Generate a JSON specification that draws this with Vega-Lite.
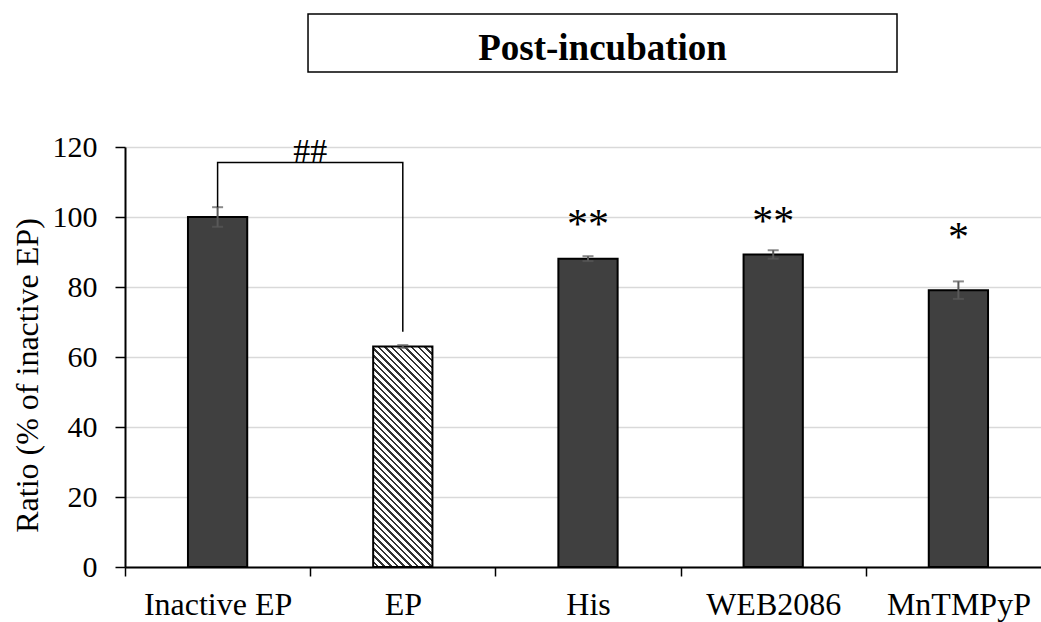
{
  "$schema": "https://vega.github.io/schema/vega-lite/v6.json",
  "width": 916,
  "height": 420,
  "autosize": {"type": "none"},
  "padding": {"left": 125, "top": 147, "right": 0, "bottom": 55},
  "config": {
    "font": "'Liberation Serif', 'Times New Roman', serif",
    "view": {"stroke": null},
    "text": {"font": "'Liberation Serif', 'Times New Roman', serif"},
    "axis": {
      "labelColor": "black",
      "titleColor": "black",
      "domainColor": "black",
      "tickColor": "black",
      "labelFont": "'Liberation Serif', 'Times New Roman', serif",
      "titleFont": "'Liberation Serif', 'Times New Roman', serif",
      "titleFontWeight": "normal"
    }
  },
  "datasets": {
    "groups": [
      {"group": "Inactive EP", "ratio": 100, "lo": 97.2, "hi": 102.8, "stars": "", "star_y": null},
      {"group": "EP", "ratio": 63, "lo": 62.6, "hi": 63.4, "stars": "", "star_y": null},
      {"group": "His", "ratio": 88.1, "lo": 87.4, "hi": 88.8, "stars": "**", "star_y": 94.0},
      {"group": "WEB2086", "ratio": 89.3, "lo": 88.1, "hi": 90.5, "stars": "**", "star_y": 95.0},
      {"group": "MnTMPyP", "ratio": 79.1, "lo": 76.6, "hi": 81.6, "stars": "*", "star_y": 90.4}
    ],
    "bracket": [
      {"step": 1, "group": "Inactive EP", "y": 102.8},
      {"step": 2, "group": "Inactive EP", "y": 115.6},
      {"step": 3, "group": "EP", "y": 115.6},
      {"step": 4, "group": "EP", "y": 67.2}
    ],
    "hash": [
      {"group": "Inactive EP", "y": 115.6, "label": "##"}
    ]
  },
  "layer": [
    {
      "layer": [
        {
          "data": {"name": "groups"},
          "transform": [{"filter": "datum.group !== 'EP'"}],
          "mark": {"type": "bar", "width": {"band": 0.32}, "fill": "#404040", "stroke": "black", "strokeWidth": 2},
          "encoding": {
            "x": {
              "field": "group",
              "type": "nominal",
              "scale": {"domain": ["Inactive EP", "EP", "His", "WEB2086", "MnTMPyP"], "paddingInner": 0, "paddingOuter": 0, "range": [0, 926]},
              "axis": {
                "title": null,
                "labelAngle": 0,
                "tickBand": "extent",
                "tickSize": 9,
                "tickWidth": 1.5,
                "domainWidth": 2,
                "labelFontSize": 32,
                "labelPadding": 13,
                "grid": false
              }
            },
            "y": {
              "field": "ratio",
              "type": "quantitative",
              "scale": {"domain": [0, 120], "nice": false},
              "axis": {
                "values": [0, 20, 40, 60, 80, 100, 120],
                "grid": true,
                "gridColor": "#d9d9d9",
                "gridWidth": 1.5,
                "domainWidth": 2,
                "tickWidth": 1.5,
                "tickSize": 10,
                "labelFontSize": 30,
                "labelPadding": 18,
                "title": "Ratio (% of inactive EP)",
                "titleFontSize": 32,
                "titlePadding": 8,
                "titleY": 228
              }
            }
          }
        },
        {
          "data": {"name": "groups"},
          "transform": [{"filter": "datum.group === 'EP'"}],
          "mark": {
            "type": "bar",
            "width": {"band": 0.32},
            "stroke": "black",
            "strokeWidth": 2,
            "fill": {
              "gradient": "linear",
              "x1": 0, "y1": 1, "x2": 0.3183, "y2": -0.1834,
              "stops": [
                {"offset": 0, "color": "#fff"}, {"offset": 0.01476, "color": "#fff"}, {"offset": 0.01476, "color": "#333"}, {"offset": 0.02381, "color": "#333"},
                {"offset": 0.02381, "color": "#fff"}, {"offset": 0.03857, "color": "#fff"}, {"offset": 0.03857, "color": "#333"}, {"offset": 0.04762, "color": "#333"},
                {"offset": 0.04762, "color": "#fff"}, {"offset": 0.06238, "color": "#fff"}, {"offset": 0.06238, "color": "#333"}, {"offset": 0.07143, "color": "#333"},
                {"offset": 0.07143, "color": "#fff"}, {"offset": 0.08619, "color": "#fff"}, {"offset": 0.08619, "color": "#333"}, {"offset": 0.09524, "color": "#333"},
                {"offset": 0.09524, "color": "#fff"}, {"offset": 0.11, "color": "#fff"}, {"offset": 0.11, "color": "#333"}, {"offset": 0.11905, "color": "#333"},
                {"offset": 0.11905, "color": "#fff"}, {"offset": 0.13381, "color": "#fff"}, {"offset": 0.13381, "color": "#333"}, {"offset": 0.14286, "color": "#333"},
                {"offset": 0.14286, "color": "#fff"}, {"offset": 0.15762, "color": "#fff"}, {"offset": 0.15762, "color": "#333"}, {"offset": 0.16667, "color": "#333"},
                {"offset": 0.16667, "color": "#fff"}, {"offset": 0.18143, "color": "#fff"}, {"offset": 0.18143, "color": "#333"}, {"offset": 0.19048, "color": "#333"},
                {"offset": 0.19048, "color": "#fff"}, {"offset": 0.20524, "color": "#fff"}, {"offset": 0.20524, "color": "#333"}, {"offset": 0.21429, "color": "#333"},
                {"offset": 0.21429, "color": "#fff"}, {"offset": 0.22905, "color": "#fff"}, {"offset": 0.22905, "color": "#333"}, {"offset": 0.2381, "color": "#333"},
                {"offset": 0.2381, "color": "#fff"}, {"offset": 0.25286, "color": "#fff"}, {"offset": 0.25286, "color": "#333"}, {"offset": 0.2619, "color": "#333"},
                {"offset": 0.2619, "color": "#fff"}, {"offset": 0.27667, "color": "#fff"}, {"offset": 0.27667, "color": "#333"}, {"offset": 0.28571, "color": "#333"},
                {"offset": 0.28571, "color": "#fff"}, {"offset": 0.30048, "color": "#fff"}, {"offset": 0.30048, "color": "#333"}, {"offset": 0.30952, "color": "#333"},
                {"offset": 0.30952, "color": "#fff"}, {"offset": 0.32429, "color": "#fff"}, {"offset": 0.32429, "color": "#333"}, {"offset": 0.33333, "color": "#333"},
                {"offset": 0.33333, "color": "#fff"}, {"offset": 0.3481, "color": "#fff"}, {"offset": 0.3481, "color": "#333"}, {"offset": 0.35714, "color": "#333"},
                {"offset": 0.35714, "color": "#fff"}, {"offset": 0.3719, "color": "#fff"}, {"offset": 0.3719, "color": "#333"}, {"offset": 0.38095, "color": "#333"},
                {"offset": 0.38095, "color": "#fff"}, {"offset": 0.39571, "color": "#fff"}, {"offset": 0.39571, "color": "#333"}, {"offset": 0.40476, "color": "#333"},
                {"offset": 0.40476, "color": "#fff"}, {"offset": 0.41952, "color": "#fff"}, {"offset": 0.41952, "color": "#333"}, {"offset": 0.42857, "color": "#333"},
                {"offset": 0.42857, "color": "#fff"}, {"offset": 0.44333, "color": "#fff"}, {"offset": 0.44333, "color": "#333"}, {"offset": 0.45238, "color": "#333"},
                {"offset": 0.45238, "color": "#fff"}, {"offset": 0.46714, "color": "#fff"}, {"offset": 0.46714, "color": "#333"}, {"offset": 0.47619, "color": "#333"},
                {"offset": 0.47619, "color": "#fff"}, {"offset": 0.49095, "color": "#fff"}, {"offset": 0.49095, "color": "#333"}, {"offset": 0.5, "color": "#333"},
                {"offset": 0.5, "color": "#fff"}, {"offset": 0.51476, "color": "#fff"}, {"offset": 0.51476, "color": "#333"}, {"offset": 0.52381, "color": "#333"},
                {"offset": 0.52381, "color": "#fff"}, {"offset": 0.53857, "color": "#fff"}, {"offset": 0.53857, "color": "#333"}, {"offset": 0.54762, "color": "#333"},
                {"offset": 0.54762, "color": "#fff"}, {"offset": 0.56238, "color": "#fff"}, {"offset": 0.56238, "color": "#333"}, {"offset": 0.57143, "color": "#333"},
                {"offset": 0.57143, "color": "#fff"}, {"offset": 0.58619, "color": "#fff"}, {"offset": 0.58619, "color": "#333"}, {"offset": 0.59524, "color": "#333"},
                {"offset": 0.59524, "color": "#fff"}, {"offset": 0.61, "color": "#fff"}, {"offset": 0.61, "color": "#333"}, {"offset": 0.61905, "color": "#333"},
                {"offset": 0.61905, "color": "#fff"}, {"offset": 0.63381, "color": "#fff"}, {"offset": 0.63381, "color": "#333"}, {"offset": 0.64286, "color": "#333"},
                {"offset": 0.64286, "color": "#fff"}, {"offset": 0.65762, "color": "#fff"}, {"offset": 0.65762, "color": "#333"}, {"offset": 0.66667, "color": "#333"},
                {"offset": 0.66667, "color": "#fff"}, {"offset": 0.68143, "color": "#fff"}, {"offset": 0.68143, "color": "#333"}, {"offset": 0.69048, "color": "#333"},
                {"offset": 0.69048, "color": "#fff"}, {"offset": 0.70524, "color": "#fff"}, {"offset": 0.70524, "color": "#333"}, {"offset": 0.71429, "color": "#333"},
                {"offset": 0.71429, "color": "#fff"}, {"offset": 0.72905, "color": "#fff"}, {"offset": 0.72905, "color": "#333"}, {"offset": 0.7381, "color": "#333"},
                {"offset": 0.7381, "color": "#fff"}, {"offset": 0.75286, "color": "#fff"}, {"offset": 0.75286, "color": "#333"}, {"offset": 0.7619, "color": "#333"},
                {"offset": 0.7619, "color": "#fff"}, {"offset": 0.77667, "color": "#fff"}, {"offset": 0.77667, "color": "#333"}, {"offset": 0.78571, "color": "#333"},
                {"offset": 0.78571, "color": "#fff"}, {"offset": 0.80048, "color": "#fff"}, {"offset": 0.80048, "color": "#333"}, {"offset": 0.80952, "color": "#333"},
                {"offset": 0.80952, "color": "#fff"}, {"offset": 0.82429, "color": "#fff"}, {"offset": 0.82429, "color": "#333"}, {"offset": 0.83333, "color": "#333"},
                {"offset": 0.83333, "color": "#fff"}, {"offset": 0.8481, "color": "#fff"}, {"offset": 0.8481, "color": "#333"}, {"offset": 0.85714, "color": "#333"},
                {"offset": 0.85714, "color": "#fff"}, {"offset": 0.8719, "color": "#fff"}, {"offset": 0.8719, "color": "#333"}, {"offset": 0.88095, "color": "#333"},
                {"offset": 0.88095, "color": "#fff"}, {"offset": 0.89571, "color": "#fff"}, {"offset": 0.89571, "color": "#333"}, {"offset": 0.90476, "color": "#333"},
                {"offset": 0.90476, "color": "#fff"}, {"offset": 0.91952, "color": "#fff"}, {"offset": 0.91952, "color": "#333"}, {"offset": 0.92857, "color": "#333"},
                {"offset": 0.92857, "color": "#fff"}, {"offset": 0.94333, "color": "#fff"}, {"offset": 0.94333, "color": "#333"}, {"offset": 0.95238, "color": "#333"},
                {"offset": 0.95238, "color": "#fff"}, {"offset": 0.96714, "color": "#fff"}, {"offset": 0.96714, "color": "#333"}, {"offset": 0.97619, "color": "#333"},
                {"offset": 0.97619, "color": "#fff"}, {"offset": 0.99095, "color": "#fff"}, {"offset": 0.99095, "color": "#333"}, {"offset": 1, "color": "#333"}
              ]
            }
          },
          "encoding": {
            "x": {"field": "group", "type": "nominal"},
            "y": {"field": "ratio", "type": "quantitative"}
          }
        },
        {
          "data": {"name": "groups"},
          "mark": {"type": "rule", "color": "#595959", "strokeWidth": 2},
          "encoding": {
            "x": {"field": "group", "type": "nominal"},
            "y": {"field": "lo", "type": "quantitative"},
            "y2": {"field": "hi"}
          }
        },
        {
          "data": {"name": "groups"},
          "mark": {"type": "tick", "color": "#595959", "thickness": 2, "size": 11},
          "encoding": {
            "x": {"field": "group", "type": "nominal"},
            "y": {"field": "lo", "type": "quantitative"}
          }
        },
        {
          "data": {"name": "groups"},
          "mark": {"type": "tick", "color": "#595959", "thickness": 2, "size": 11},
          "encoding": {
            "x": {"field": "group", "type": "nominal"},
            "y": {"field": "hi", "type": "quantitative"}
          }
        },
        {
          "data": {"name": "groups"},
          "transform": [{"filter": "datum.stars !== ''"}],
          "mark": {"type": "text", "fontSize": 42, "align": "center", "baseline": "alphabetic", "color": "black"},
          "encoding": {
            "x": {"field": "group", "type": "nominal"},
            "y": {"field": "star_y", "type": "quantitative"},
            "text": {"field": "stars"}
          }
        },
        {
          "data": {"name": "bracket"},
          "mark": {"type": "line", "color": "black", "strokeWidth": 1.5},
          "encoding": {
            "x": {"field": "group", "type": "nominal"},
            "y": {"field": "y", "type": "quantitative"},
            "order": {"field": "step", "type": "quantitative"}
          }
        },
        {
          "data": {"name": "hash"},
          "mark": {"type": "text", "fontSize": 34, "align": "center", "baseline": "alphabetic", "color": "black"},
          "encoding": {
            "x": {"field": "group", "type": "nominal", "bandPosition": 1},
            "y": {"field": "y", "type": "quantitative"},
            "text": {"field": "label"}
          }
        }
      ]
    },
    {
      "layer": [
        {
          "data": {"values": [{}]},
          "mark": {"type": "rect", "fill": "white", "stroke": "black", "strokeWidth": 1.5},
          "encoding": {
            "x": {"datum": 0.1998, "type": "quantitative", "scale": {"domain": [0, 1]}, "axis": null},
            "x2": {"datum": 0.8428},
            "y": {"datum": 1.3167, "type": "quantitative", "scale": {"domain": [0, 1]}, "axis": null},
            "y2": {"datum": 1.1786}
          }
        },
        {
          "data": {"values": [{}]},
          "mark": {"type": "text", "text": "Post-incubation", "fontSize": 37, "fontWeight": "bold", "align": "center", "baseline": "alphabetic", "color": "black"},
          "encoding": {
            "x": {"datum": 0.5213, "type": "quantitative", "scale": {"domain": [0, 1]}, "axis": null},
            "y": {"datum": 1.2071, "type": "quantitative", "scale": {"domain": [0, 1]}, "axis": null}
          }
        }
      ]
    }
  ],
  "resolve": {"scale": {"x": "independent", "y": "independent"}}
}
